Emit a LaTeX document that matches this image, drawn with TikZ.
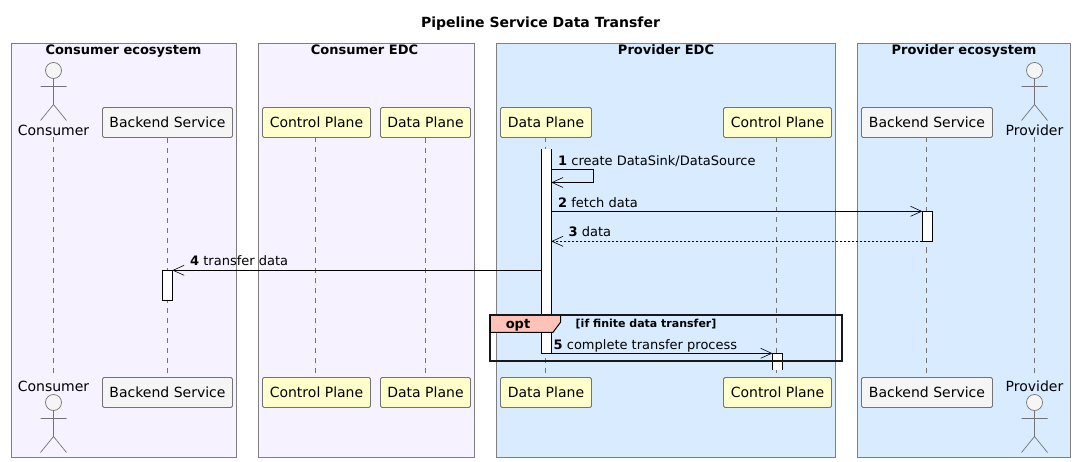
\documentclass[tikz,border=0pt]{standalone}
\usepackage{fontspec}
\setmainfont{DejaVu Sans}
\usetikzlibrary{arrows.meta}
\definecolor{boxline}{HTML}{7F7F7F}
\definecolor{purplebox}{HTML}{F7F2FF}
\definecolor{bluebox}{HTML}{D8EBFF}
\definecolor{yellowbox}{HTML}{FEFFCA}
\definecolor{greybox}{HTML}{F5F5F5}
\definecolor{opttab}{HTML}{FFC2B8}
\tikzset{
  groupbox/.style={draw=boxline,line width=0.9pt,outer sep=0pt,minimum width=#1,minimum height=414pt,inner sep=0pt,anchor=north west},
  grouptitle/.style={font=\fontsize{13}{15}\selectfont\bfseries,inner sep=0pt,anchor=base},
  yellowpart/.style={draw=black!55,line width=0.8pt,fill=yellowbox,rounded corners=1.5pt,minimum height=30pt,inner sep=0pt,font=\fontsize{14}{15}\selectfont},
  greypart/.style={yellowpart,fill=greybox},
  actorlabel/.style={inner sep=0pt,font=\fontsize{14}{15}\selectfont},
  lifeline/.style={draw=black!55,line width=0.6pt,dash pattern=on 5pt off 5pt},
  bar/.style={draw=black,fill=white,line width=0.9pt,outer sep=0pt,minimum width=10pt,inner sep=0pt},
  openbar/.style={fill=white,outer sep=0pt,minimum width=10pt,inner sep=0pt},
  msg/.style={-{Straight Barb[length=11pt,width=10pt,line width=0.6pt]},line width=0.8pt},
  msglabel/.style={inner sep=0pt,anchor=base west,font=\fontsize{13}{15}\selectfont},
  actorman/.pic={
    \draw[draw=black!55,line width=0.7pt,fill=greybox] (0,-8) circle (8);
    \draw[draw=black!55,line width=0.7pt] (0,0) -- (0,26) (-13,8) -- (13,8)
      (-13,42) -- (0,26) -- (13,42);
  }
}
\begin{document}
\begin{tikzpicture}[x=1pt,y=-1pt]
  \useasboundingbox (0,0) rectangle (1075,462);
  \node[inner sep=0pt,anchor=base,font=\fontsize{14}{15}\selectfont\bfseries] (title) at (540.5,28) {Pipeline Service Data Transfer};

  \node[groupbox=225pt,fill=purplebox] (consumerEco) at (11.5,43.5) {};
  \node[groupbox=216pt,fill=purplebox] (consumerEdc) at (258.5,43.5) {};
  \node[groupbox=339pt,fill=bluebox] (providerEdc) at (496.5,43.5) {};
  \node[groupbox=213pt,fill=bluebox] (providerEco) at (857.5,43.5) {};
  \node[grouptitle] (consumerEcoTitle) at (123.5,55) {Consumer ecosystem};
  \node[grouptitle] (consumerEdcTitle) at (364.5,55) {Consumer EDC};
  \node[grouptitle] (providerEdcTitle) at (666,55) {Provider EDC};
  \node[grouptitle] (providerEcoTitle) at (964,55) {Provider ecosystem};

  \node[actorlabel] (consumerTop) at (53.5,130) {Consumer};
  \node[actorlabel] (consumerBot) at (53.5,386) {Consumer};
  \node[actorlabel] (providerTop) at (1034.5,130) {Provider};
  \node[actorlabel] (providerBot) at (1034.5,386) {Provider};
  \pic at (53.5,78.5) {actorman};
  \pic at (53.5,410.5) {actorman};
  \pic at (1034.5,78.5) {actorman};
  \pic at (1034.5,410.5) {actorman};

  \node[greypart,minimum width=130pt] (backendTop) at (167.5,122.5) {Backend Service};
  \node[greypart,minimum width=130pt] (backendBot) at (167.5,392.5) {Backend Service};
  \node[yellowpart,minimum width=108pt] (controlTop) at (316.5,122.5) {Control Plane};
  \node[yellowpart,minimum width=108pt] (controlBot) at (316.5,392.5) {Control Plane};
  \node[yellowpart,minimum width=90pt] (dataTop) at (425.5,122.5) {Data Plane};
  \node[yellowpart,minimum width=90pt] (dataBot) at (425.5,392.5) {Data Plane};
  \node[yellowpart,minimum width=91pt] (pdataTop) at (546,122.5) {Data Plane};
  \node[yellowpart,minimum width=91pt] (pdataBot) at (546,392.5) {Data Plane};
  \node[yellowpart,minimum width=108pt] (pcontrolTop) at (777.5,122.5) {Control Plane};
  \node[yellowpart,minimum width=108pt] (pcontrolBot) at (777.5,392.5) {Control Plane};
  \node[greypart,minimum width=131pt] (pbackendTop) at (927,122.5) {Backend Service};
  \node[greypart,minimum width=131pt] (pbackendBot) at (927,392.5) {Backend Service};

  \draw[lifeline] (53.5,137.5) to (53.5,377);
  \draw[lifeline] (backendTop) to (backendBot);
  \draw[lifeline] (315.5,137.5) to (315.5,377);
  \draw[lifeline] (dataTop) to (dataBot);
  \draw[lifeline] (545.5,137.5) to (545.5,377);
  \draw[lifeline] (776.5,137.5) to (776.5,377);
  \draw[lifeline] (926.5,137.5) to (926.5,377);
  \draw[lifeline] (1034.5,137.5) to (1034.5,377);

  \node[openbar,minimum height=204pt] (pdataBar) at (546.3,251.3) {};
  \draw[line width=0.9pt] (pdataBar.north west) -- (pdataBar.south west) -- (pdataBar.south east) -- (pdataBar.north east);
  \node[bar,minimum height=30pt] (pbackendBar) at (927.3,226.3) {};
  \node[bar,minimum height=30pt] (backendBar) at (167.4,285.3) {};
  \node[openbar,minimum height=17pt] (pcontrolBar) at (777.4,361.8) {};
  \draw[line width=0.9pt] (pcontrolBar.south west) -- (pcontrolBar.north west) -- (pcontrolBar.north east) -- (pcontrolBar.south east);

  \coordinate (selfStart) at (593.5,169.3);
  \coordinate (selfEnd) at (593.5,182.5);
  \draw[msg] (pdataBar.east |- selfStart) -- (selfStart) -- (selfEnd) -- (pdataBar.east |- selfEnd);
  \draw[msg] (pdataBar.east |- pbackendBar.north) -- (pbackendBar.north west);
  \draw[msg,line width=0.7pt,dash pattern=on 2pt off 2pt] (pbackendBar.south west) -- (pdataBar.east |- pbackendBar.south);
  \draw[msg] (pdataBar.west |- backendBar.north) -- (backendBar.north east);
  \draw[msg] (pdataBar.south east) -- (pcontrolBar.north west);

  \node[msglabel] (msgOne) at (558,165.5) {\textbf{1} create DataSink/DataSource};
  \node[msglabel] (msgTwo) at (558,207.5) {\textbf{2} fetch data};
  \node[msglabel] (msgThree) at (568.5,236.5) {\textbf{3} data};
  \node[msglabel] (msgFour) at (190,265.5) {\textbf{4} transfer data};
  \node[msglabel] (msgFive) at (553.5,349) {\textbf{5} complete transfer process};

  \node[draw=black!90,line width=2pt,outer sep=0pt,minimum width=352pt,minimum height=46pt,inner sep=0pt,anchor=north west] (optFrame) at (490.3,315) {};
  \draw[fill=opttab,line width=1pt] (optFrame.north west) -- (560.7,315) -- (560.7,322) -- (553,332.3) -- (490.3,332.3) -- cycle;
  \draw[draw=black!90,line width=2pt] (optFrame.north west) -- (optFrame.north east);
  \node[inner sep=0pt,anchor=base,font=\fontsize{13}{15}\selectfont\bfseries] (optLabel) at (518,328.5) {opt};
  \node[inner sep=0pt,anchor=base west,font=\fontsize{11}{12}\selectfont\bfseries] (optGuard) at (575.5,327) {[if finite data transfer]};
\end{tikzpicture}
\end{document}
